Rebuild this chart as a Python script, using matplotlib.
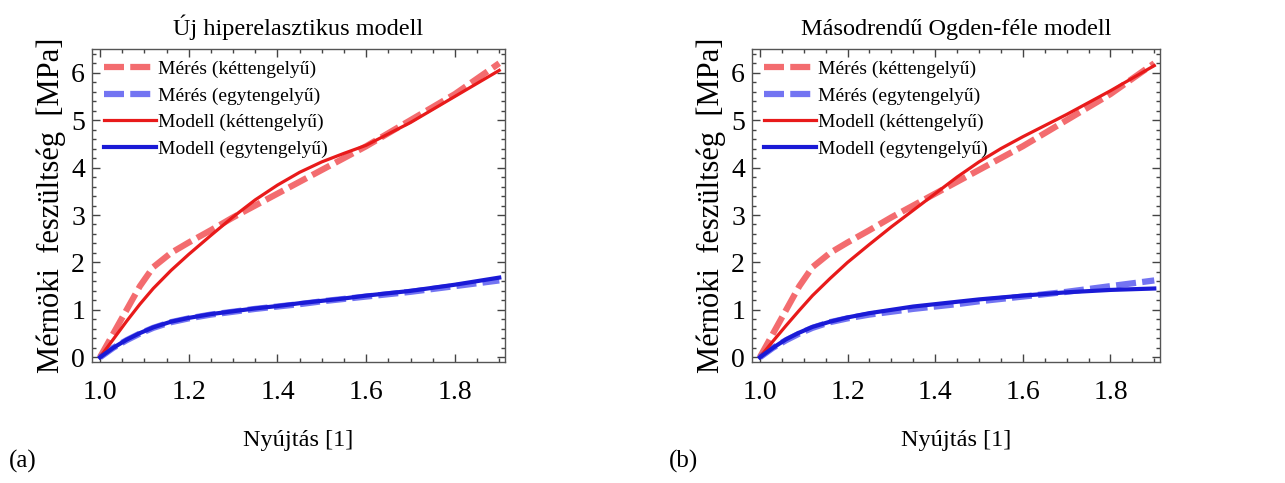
import numpy as np
import matplotlib.pyplot as plt
from matplotlib.ticker import MultipleLocator

plt.rcParams['font.family'] = 'Liberation Serif'

# stretch values
stretch = [1.0, 1.03, 1.06, 1.09, 1.12, 1.16, 1.2, 1.25, 1.3, 1.35, 1.4, 1.45, 1.5, 1.55, 1.6, 1.7, 1.8, 1.9]

# measured data (same in both panels)
meas_biax = [0.0, 0.5, 1.0, 1.5, 1.9, 2.2, 2.42, 2.68, 2.95, 3.2, 3.45, 3.7, 3.95, 4.2, 4.45, 5.0, 5.55, 6.2]
meas_uni = [0.0, 0.2, 0.36, 0.5, 0.62, 0.74, 0.82, 0.9, 0.96, 1.02, 1.07, 1.12, 1.18, 1.23, 1.28, 1.38, 1.5, 1.62]

# panel (a) model
model_a_biax = [0.0, 0.38, 0.76, 1.12, 1.45, 1.83, 2.17, 2.57, 2.96, 3.32, 3.63, 3.9, 4.12, 4.3, 4.47, 4.95, 5.5, 6.05]
model_a_uni = [0.0, 0.2, 0.37, 0.51, 0.63, 0.75, 0.83, 0.91, 0.97, 1.03, 1.08, 1.14, 1.19, 1.24, 1.3, 1.4, 1.53, 1.68]

# panel (b) model
model_b_biax = [0.0, 0.34, 0.67, 0.99, 1.3, 1.66, 2.0, 2.38, 2.75, 3.1, 3.45, 3.8, 4.12, 4.4, 4.65, 5.12, 5.62, 6.15]
model_b_uni = [0.0, 0.2, 0.38, 0.52, 0.64, 0.75, 0.84, 0.93, 1.0, 1.07, 1.12, 1.17, 1.22, 1.26, 1.3, 1.37, 1.42, 1.45]

titles = ['Új hiperelasztikus modell', 'Másodrendű Ogden-féle modell']
panel_labels = ['(a)', '(b)']
legend_labels = ['Mérés (kéttengelyű)', 'Mérés (egytengelyű)',
                 'Modell (kéttengelyű)', 'Modell (egytengelyű)']

fig = plt.figure(figsize=(12.85, 4.83), dpi=100)
ax_a = fig.add_axes([0.0716, 0.2505, 0.3214, 0.648])
ax_b = fig.add_axes([0.5852, 0.2505, 0.3175, 0.648])

red_dash = '#f25c5f'
blue_dash = '#5b5cf0'
red_solid = '#e81a1a'
blue_solid = '#1a1ad6'

for ax, mb, mu, title, plab in zip([ax_a, ax_b], [model_a_biax, model_b_biax],
                                   [model_a_uni, model_b_uni], titles, panel_labels):
    ax.plot(stretch, meas_biax, color=red_dash, lw=4.5, dashes=(3.2, 1.0), alpha=0.9,
            label=legend_labels[0])
    ax.plot(stretch, meas_uni, color=blue_dash, lw=4.5, dashes=(3.2, 1.0), alpha=0.85,
            label=legend_labels[1])
    ax.plot(stretch, mb, color=red_solid, lw=2.3, label=legend_labels[2])
    ax.plot(stretch, mu, color=blue_solid, lw=3.0, label=legend_labels[3])

    ax.set_xlim(0.982, 1.913)
    ax.set_ylim(-0.1, 6.5)
    ax.xaxis.set_major_locator(MultipleLocator(0.2))
    ax.xaxis.set_minor_locator(MultipleLocator(0.05))
    ax.yaxis.set_major_locator(MultipleLocator(1))
    ax.yaxis.set_minor_locator(MultipleLocator(0.2))
    ax.xaxis.set_major_formatter(plt.FormatStrFormatter('%.1f'))
    ax.tick_params(which='both', direction='in', top=True, right=True, colors='#444444',
                   labelcolor='black', labelsize=20, width=1.0)
    ax.tick_params(which='major', length=6)
    ax.tick_params(which='minor', length=3)
    ax.tick_params(axis='x', which='major', pad=13)
    ax.tick_params(axis='y', which='major', pad=5)
    for s in ax.spines.values():
        s.set_color('#555555')
        s.set_linewidth(1.0)

    ax.set_title(title, fontsize=17.5, pad=10)
    ax.set_xlabel('Nyújtás [1]', fontsize=17.5, labelpad=18)
    ax.set_ylabel('Mérnöki  feszültség  [MPa]', fontsize=22, labelpad=4)

    ax.legend(loc='upper left', frameon=False, fontsize=14, handlelength=2.7,
              handletextpad=0.1, labelspacing=0.45, borderaxespad=0.3,
              borderpad=0.3)

    pos = ax.get_position()
    fig.text(pos.x0 - 0.065, 0.02, plab, fontsize=18, ha='left', va='bottom')

fig.savefig('out.png', dpi=100)
